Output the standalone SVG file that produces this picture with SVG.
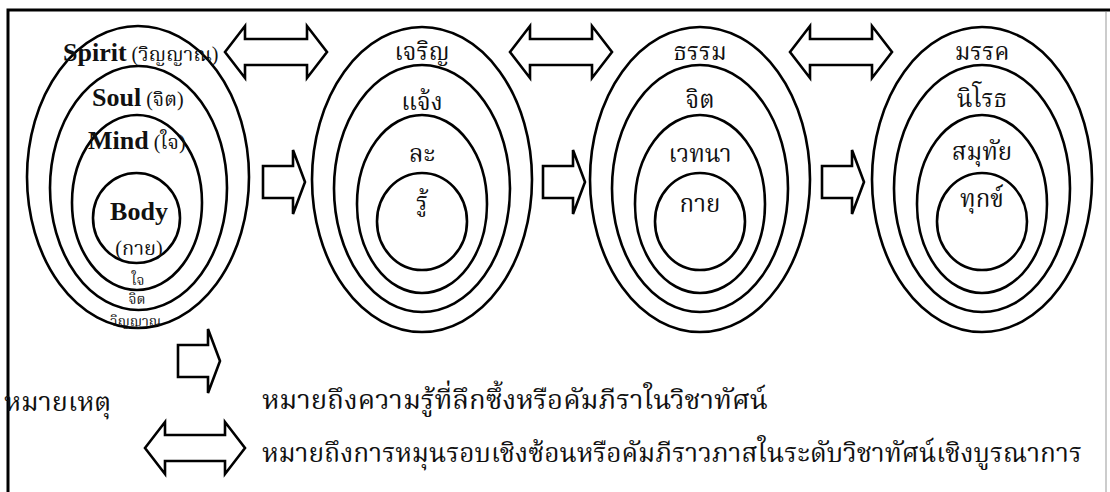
<svg xmlns="http://www.w3.org/2000/svg" xmlns:xlink="http://www.w3.org/1999/xlink" width="1110" height="492" viewBox="0 0 1110 492">
<style>
  .ring { fill: none; stroke: #000; stroke-width: 2.6; }
  .arrow { fill: #fff; stroke: #000; stroke-width: 2.6; stroke-linejoin: miter; }
  .en { font-family: "Liberation Serif", "Times New Roman", serif; font-weight: bold; font-size: 26px; fill: #111; }
  .th { font-family: "Liberation Serif", "Noto Serif Thai", "Noto Sans Thai", serif; fill: #111; }
  .lbl { font-size: 24px; text-anchor: middle; }
  .sm { font-size: 14px; text-anchor: middle; }
  .leg { font-size: 27px; }
</style>
<defs>
  <path id="rarrow" d="M0,-16 H30 V-32 L42,0 L30,32 V16 H0 Z"/>
  <path id="darrow" d="M0,0 L20,-26 V-13 H82 V-26 L102,0 L82,26 V13 H20 V26 Z"/>
  <path id="darrowL" d="M0,0 L20,-26 V-13 H80 V-26 L100,0 L80,26 V13 H20 V26 Z"/>
</defs>
<rect width="1110" height="492" fill="#fff"/>
<g id="frame">
  <path d="M8,492 V10 H1110" fill="none" stroke="#000" stroke-width="3"/>
  <line x1="1106" y1="12" x2="1106" y2="492" stroke="#bbb" stroke-width="1.5"/>
</g>

<g id="node-body-mind-soul-spirit">
  <ellipse class="ring" cx="138" cy="177" rx="111" ry="151"/>
  <ellipse class="ring" cx="138.5" cy="188" rx="88.5" ry="122"/>
  <ellipse class="ring" cx="137" cy="202.5" rx="65" ry="87.5"/>
  <ellipse class="ring" cx="136.5" cy="218" rx="43.5" ry="45"/>
  <text x="63" y="61"><tspan class="en">Spirit</tspan><tspan class="th" font-size="20px"> (วิญญาณ)</tspan></text>
  <text x="92" y="106"><tspan class="en">Soul</tspan><tspan class="th" font-size="20px"> (จิต)</tspan></text>
  <text x="88" y="149"><tspan class="en">Mind</tspan><tspan class="th" font-size="20px"> (ใจ)</tspan></text>
  <text class="en" x="139" y="220" text-anchor="middle">Body</text>
  <text class="th" x="139" y="255" font-size="20px" text-anchor="middle">(กาย)</text>
  <text class="th sm" x="138" y="285">ใจ</text>
  <text class="th sm" x="137" y="304">จิต</text>
  <text class="th sm" x="136" y="326">วิญญาณ</text>
</g>

<g id="node-charoen">
  <ellipse class="ring" cx="422" cy="179.5" rx="110" ry="152.5"/>
  <ellipse class="ring" cx="422" cy="188.5" rx="88" ry="123.5"/>
  <ellipse class="ring" cx="422" cy="204" rx="65" ry="89"/>
  <ellipse class="ring" cx="422" cy="221.5" rx="45" ry="48.5"/>
  <text class="th lbl" x="422" y="60">เจริญ</text>
  <text class="th lbl" x="422" y="110">แจ้ง</text>
  <text class="th lbl" x="422" y="162">ละ</text>
  <text class="th lbl" x="422" y="210">รู้</text>
</g>

<g id="node-dhamma">
  <ellipse class="ring" cx="700" cy="179.5" rx="110" ry="152.5"/>
  <ellipse class="ring" cx="700" cy="188.5" rx="88" ry="123.5"/>
  <ellipse class="ring" cx="700" cy="204" rx="65" ry="89"/>
  <ellipse class="ring" cx="700" cy="221.5" rx="45" ry="48.5"/>
  <text class="th lbl" x="700" y="60">ธรรม</text>
  <text class="th lbl" x="700" y="108">จิต</text>
  <text class="th lbl" x="700" y="162">เวทนา</text>
  <text class="th lbl" x="700" y="212">กาย</text>
</g>

<g id="node-magga">
  <ellipse class="ring" cx="982" cy="179.5" rx="110" ry="152.5"/>
  <ellipse class="ring" cx="982" cy="188.5" rx="88" ry="123.5"/>
  <ellipse class="ring" cx="982" cy="204" rx="65" ry="89"/>
  <ellipse class="ring" cx="982" cy="221.5" rx="45" ry="48.5"/>
  <text class="th lbl" x="982" y="60">มรรค</text>
  <text class="th lbl" x="982" y="107">นิโรธ</text>
  <text class="th lbl" x="982" y="160">สมุทัย</text>
  <text class="th lbl" x="982" y="207">ทุกข์</text>
</g>

<g id="connectors">
  <use xlink:href="#darrow" href="#darrow" class="arrow" transform="translate(225,52)"/>
  <use xlink:href="#darrow" href="#darrow" class="arrow" transform="translate(510,52)"/>
  <use xlink:href="#darrow" href="#darrow" class="arrow" transform="translate(790,52)"/>
  <use xlink:href="#rarrow" href="#rarrow" class="arrow" transform="translate(263,182)"/>
  <use xlink:href="#rarrow" href="#rarrow" class="arrow" transform="translate(543,182)"/>
  <use xlink:href="#rarrow" href="#rarrow" class="arrow" transform="translate(822,182)"/>
</g>

<g id="legend">
  <text class="th leg" x="4" y="411">หมายเหตุ</text>
  <use xlink:href="#rarrow" href="#rarrow" class="arrow" transform="translate(178,361)"/>
  <use xlink:href="#darrowL" href="#darrowL" class="arrow" transform="translate(145,448)"/>
  <text class="th leg" x="262" y="409" textLength="506" lengthAdjust="spacingAndGlyphs">หมายถึงความรู้ที่ลึกซึ้งหรือคัมภีราในวิชาทัศน์</text>
  <text class="th leg" x="262" y="462" textLength="820" lengthAdjust="spacingAndGlyphs">หมายถึงการหมุนรอบเชิงซ้อนหรือคัมภีราวภาสในระดับวิชาทัศน์เชิงบูรณาการ</text>
</g>
</svg>
